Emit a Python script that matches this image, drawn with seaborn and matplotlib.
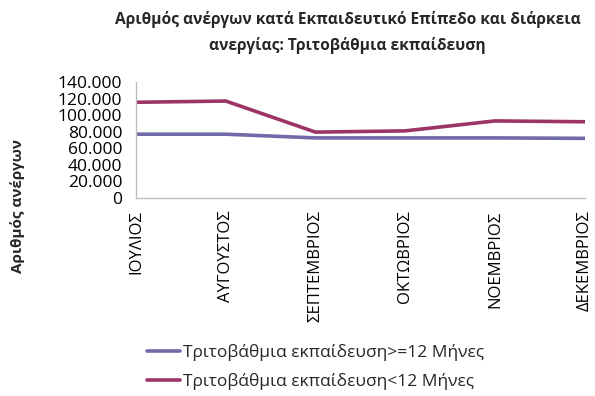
import pandas as pd
import matplotlib.pyplot as plt
import seaborn as sns
from matplotlib.ticker import FuncFormatter

months = ["ΙΟΥΛΙΟΣ", "ΑΥΓΟΥΣΤΟΣ", "ΣΕΠΤΕΜΒΡΙΟΣ", "ΟΚΤΩΒΡΙΟΣ", "ΝΟΕΜΒΡΙΟΣ", "ΔΕΚΕΜΒΡΙΟΣ"]
long_term = [77000, 77000, 72500, 72500, 72500, 72000]
short_term = [115500, 117000, 79500, 81000, 93000, 92000]
series_names = ["Τριτοβάθμια εκπαίδευση>=12 Μήνες", "Τριτοβάθμια εκπαίδευση<12 Μήνες"]

df = pd.concat([
    pd.DataFrame({"Μήνας": months, "Άνεργοι": long_term, "Σειρά": series_names[0]}),
    pd.DataFrame({"Μήνας": months, "Άνεργοι": short_term, "Σειρά": series_names[1]}),
], ignore_index=True)
df["x"] = df["Μήνας"].map({m: i for i, m in enumerate(months)})

sns.set_style("white")
plt.rcParams['font.family'] = ['Open Sans', 'DejaVu Sans']

fig = plt.figure(figsize=(5.95, 3.96), dpi=100)
ax = fig.add_axes([0.2286, 0.5, 0.754, 0.293])

palette = {series_names[0]: "#6f6aa8", series_names[1]: "#9c3468"}
sns.lineplot(data=df, x="x", y="Άνεργοι", hue="Σειρά", palette=palette,
             linewidth=2.6, ax=ax, legend=False)

ax.set_xlim(0, len(months) - 1)
ax.set_ylim(0, 140000)
ax.set_yticks(range(0, 140001, 20000))
ax.yaxis.set_major_formatter(FuncFormatter(lambda v, p: f"{int(v):,}".replace(",", ".")))
ax.set_xticks(range(len(months)))
ax.set_xticklabels(months, rotation=90, va="top")
ax.tick_params(axis="x", length=0, labelsize=12, pad=9, colors="black")
ax.tick_params(axis="y", length=0, labelsize=12.5, pad=10, colors="black")
for side in ["top", "right"]:
    ax.spines[side].set_visible(False)
for side in ["left", "bottom"]:
    ax.spines[side].set_color("#bdbdbd")
    ax.spines[side].set_linewidth(1)
ax.set_xlabel("")
ax.set_ylabel("")

fig.text(0.584, 0.918, "Αριθμός ανέργων κατά Εκπαιδευτικό Επίπεδο και διάρκεια\nανεργίας: Τριτοβάθμια εκπαίδευση",
         ha="center", va="center", fontsize=11.2, fontweight="bold", linespacing=1.65)
fig.text(0.03, 0.48, "Αριθμός ανέργων", rotation=90, ha="center", va="center",
         fontsize=11, fontweight="bold")

handles = [plt.Line2D([], [], color=palette[n], linewidth=2.6) for n in series_names]
fig.legend(handles, series_names, loc="center left", bbox_to_anchor=(0.22, 0.073),
           frameon=False, fontsize=12.5, handlelength=1.9, handletextpad=0.2,
           labelspacing=0.65)

fig.savefig("out.png", dpi=100)
